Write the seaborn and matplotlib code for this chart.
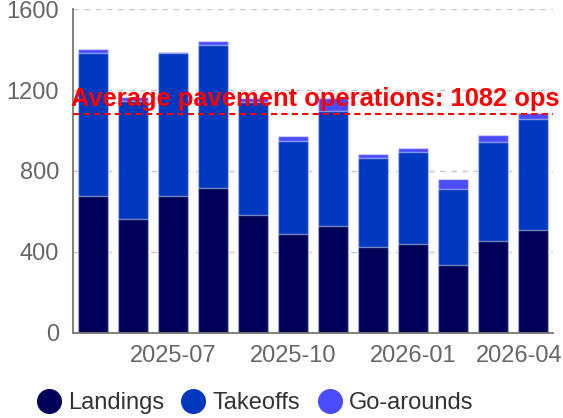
import numpy as np
import pandas as pd
import matplotlib
matplotlib.use("Agg")
import matplotlib.pyplot as plt
import matplotlib.transforms as mtransforms
import seaborn as sns
from matplotlib.lines import Line2D

# monthly operations
months = ["2025-05", "2025-06", "2025-07", "2025-08", "2025-09", "2025-10",
          "2025-11", "2025-12", "2026-01", "2026-02", "2026-03", "2026-04"]
landings = [678, 564, 678, 714, 584, 487, 530, 426, 440, 335, 455, 510]
takeoffs = [703, 583, 703, 708, 556, 459, 569, 437, 453, 375, 486, 549]
go_arounds = [23, 20, 8, 23, 20, 28, 63, 22, 21, 51, 39, 29]
tick_months = ["2025-07", "2025-10", "2026-01", "2026-04"]

c_land = "#000058"
c_take = "#0039BF"
c_ga = "#4B4BFF"

df = pd.DataFrame({"month": months, "landings": landings,
                   "takeoffs": takeoffs, "go_arounds": go_arounds})
df["pavement"] = df["landings"] + df["takeoffs"]
df["total"] = df["pavement"] + df["go_arounds"]
avg = df["pavement"].mean()

sns.set_style("white")
plt.rcParams["font.family"] = ["Liberation Sans", "DejaVu Sans"]

fig = plt.figure(figsize=(5.63, 4.18), dpi=100)
ax = fig.add_axes([0.1295, 0.204, 0.853, 0.774])

edge = (1, 1, 1, 0.45)
# stacked by overlapping cumulative heights
sns.barplot(data=df, x="month", y="total", color=c_ga, saturation=1,
            width=0.76, edgecolor=edge, linewidth=1, ax=ax, zorder=2)
sns.barplot(data=df, x="month", y="pavement", color=c_take, saturation=1,
            width=0.76, edgecolor=edge, linewidth=1, ax=ax, zorder=2)
sns.barplot(data=df, x="month", y="landings", color=c_land, saturation=1,
            width=0.76, edgecolor=edge, linewidth=1, ax=ax, zorder=2)

ax.set_xlim(-0.5, len(months) - 0.5)
ax.set_ylim(0, 1600)
ax.set_yticks([0, 400, 800, 1200, 1600])
ax.set_xticks([months.index(m) for m in tick_months])
ax.set_xticklabels(tick_months)
ax.set_xlabel("")
ax.set_ylabel("")

ax.yaxis.grid(True, color="#c8c8c8", linestyle=(0, (4, 4)), linewidth=1, zorder=0)
ax.set_axisbelow(True)
for s in ["top", "right"]:
    ax.spines[s].set_visible(False)
for s in ["left", "bottom"]:
    ax.spines[s].set_color("#777777")
    ax.spines[s].set_linewidth(1.3)
ax.tick_params(axis="both", length=7, width=1.3, color="#777777",
               labelcolor="#666666", labelsize=17, pad=3)
ax.tick_params(axis="x", pad=2)

# keep the last month label inside the figure
last = ax.get_xticklabels()[-1]
last.set_transform(last.get_transform() +
                   mtransforms.ScaledTranslation(-0.14, 0, fig.dpi_scale_trans))

ax.axhline(avg, color="red", linestyle=(0, (3, 2)), linewidth=1.5, zorder=4)
ax.text(-0.56, avg + 40, f"Average pavement operations: {avg:.0f} ops",
        color="red", fontweight="bold", fontsize=18.4, ha="left",
        va="baseline", zorder=5)

handles = [Line2D([], [], marker="o", linestyle="", markersize=17,
                  markerfacecolor=c, markeredgecolor=c)
           for c in [c_land, c_take, c_ga]]
fig.legend(handles, ["Landings", "Takeoffs", "Go-arounds"], loc="center",
           bbox_to_anchor=(0.453, 0.036), ncol=3, frameon=False,
           fontsize=17, handlelength=1.0, handletextpad=0.3,
           columnspacing=0.75, labelcolor="#333333")

fig.savefig("out.png", dpi=100)
